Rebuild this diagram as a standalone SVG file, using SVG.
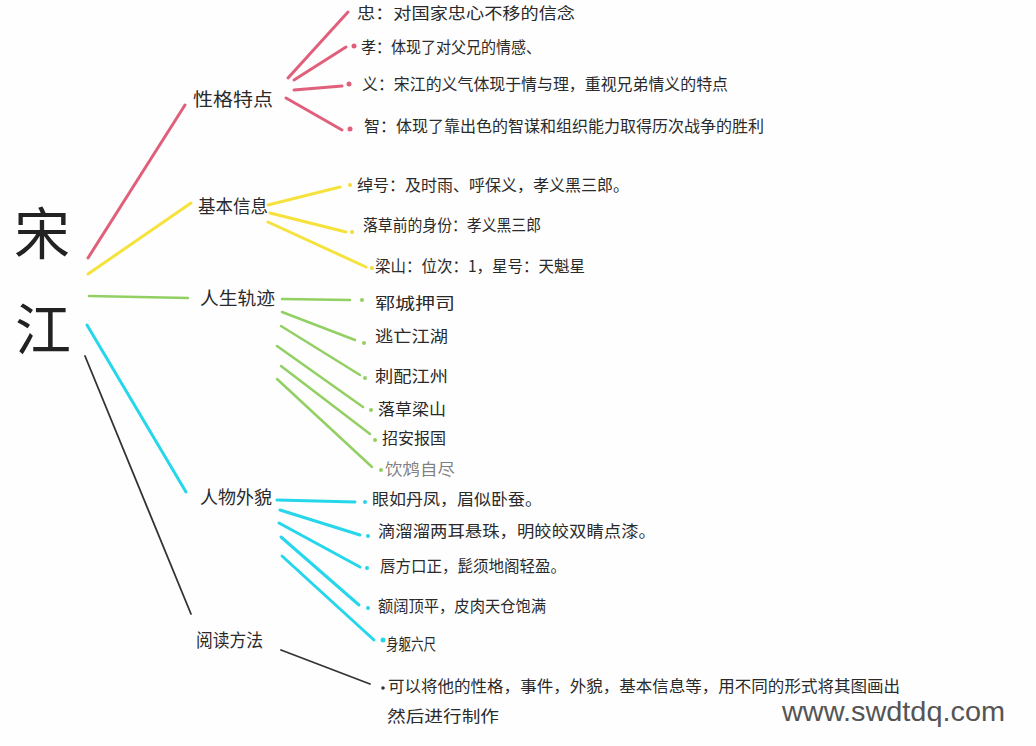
<svg xmlns="http://www.w3.org/2000/svg" width="1036" height="746" viewBox="0 0 1036 746">
<style>
.t{font-family:"Noto Sans CJK SC","Noto Sans",sans-serif;fill:#2a2a2a;font-size:16px}
.lbl{font-size:18px}
.big{font-size:56px;fill:#222}
.r{stroke:#e0607c;stroke-width:3;stroke-linecap:round;fill:none}
.y{stroke:#f6e23c;stroke-width:3;stroke-linecap:round;fill:none}
.g{stroke:#92d063;stroke-width:2.5;stroke-linecap:round;fill:none}
.c{stroke:#26d6ea;stroke-width:3;stroke-linecap:round;fill:none}
.k{stroke:#333;stroke-width:1.8;stroke-linecap:round;fill:none}
.dr{fill:#e0607c}.dy{fill:#f2dc3a}.dg{fill:#92d063}.dc{fill:#26d6ea}.dk{fill:#333}
.wm{font-family:"Liberation Sans",Arial,sans-serif;font-size:28px;fill:#555}
</style>
<rect width="1036" height="746" fill="#fefefe"/>
<g id="connectors">
<line class="r" x1="88" y1="258" x2="185" y2="105"/>
<line class="y" x1="88" y1="274" x2="191" y2="203"/>
<line class="g" x1="89" y1="296" x2="188" y2="298"/>
<line class="c" x1="87" y1="325" x2="186" y2="492"/>
<line class="k" x1="85" y1="356" x2="191" y2="614"/>
<line class="r" x1="288" y1="78" x2="348" y2="12"/>
<line class="r" x1="294" y1="80" x2="346" y2="47"/>
<line class="r" x1="294" y1="90" x2="342" y2="86"/>
<line class="r" x1="286" y1="98" x2="342" y2="130"/>
<line class="y" x1="268" y1="205" x2="340" y2="187"/>
<line class="y" x1="270" y1="213" x2="346" y2="232"/>
<line class="y" x1="268" y1="222" x2="366" y2="267"/>
<line class="g" x1="282" y1="299" x2="350" y2="300"/>
<line class="g" x1="282" y1="312" x2="355" y2="340"/>
<line class="g" x1="281" y1="326" x2="360" y2="375"/>
<line class="g" x1="277" y1="346" x2="363" y2="407"/>
<line class="g" x1="281" y1="366" x2="370" y2="434"/>
<line class="g" x1="277" y1="379" x2="372" y2="467"/>
<line class="c" x1="277" y1="500" x2="355" y2="502"/>
<line class="c" x1="280" y1="510" x2="360" y2="535"/>
<line class="c" x1="279" y1="523" x2="360" y2="567"/>
<line class="c" x1="281" y1="537" x2="359" y2="605"/>
<line class="c" x1="282" y1="556" x2="374" y2="640"/>
<line class="k" x1="281" y1="650" x2="370" y2="684"/>
<circle class="dr" cx="354" cy="46" r="2.5"/>
<circle class="dr" cx="349" cy="84" r="2.5"/>
<circle class="dr" cx="350" cy="129" r="2.5"/>
<circle class="dy" cx="350" cy="185" r="2"/>
<circle class="dy" cx="352" cy="232" r="2"/>
<circle class="dy" cx="372" cy="268" r="2"/>
<circle class="dg" cx="362" cy="300" r="2"/>
<circle class="dg" cx="364" cy="343" r="2"/>
<circle class="dg" cx="365" cy="378" r="2"/>
<circle class="dg" cx="371" cy="410" r="2"/>
<circle class="dg" cx="375" cy="440" r="2"/>
<circle class="dg" cx="381" cy="470" r="2"/>
<circle class="dc" cx="365" cy="502" r="2"/>
<circle class="dc" cx="368" cy="536" r="2"/>
<circle class="dc" cx="367" cy="568" r="2"/>
<circle class="dc" cx="368" cy="608" r="2"/>
<circle class="dc" cx="383" cy="640" r="2.5"/>
<circle class="dk" cx="383" cy="688" r="1.8"/>
</g>
<g id="root"><text class="t big" x="14" y="254">宋</text><text class="t big" x="15" y="350">江</text></g>
<g id="n-xingge"><text class="t lbl" x="193" y="106" textLength="80" lengthAdjust="spacingAndGlyphs">性格特点</text></g>
<g id="n-zhong"><text class="t" x="357" y="19" textLength="218" lengthAdjust="spacingAndGlyphs">忠：对国家忠心不移的信念</text></g>
<g id="n-xiao"><text class="t" x="361" y="53" textLength="180" lengthAdjust="spacingAndGlyphs">孝：体现了对父兄的情感、</text></g>
<g id="n-yi"><text class="t" x="362" y="90" textLength="366" lengthAdjust="spacingAndGlyphs">义：宋江的义气体现于情与理，重视兄弟情义的特点</text></g>
<g id="n-zhi"><text class="t" x="364" y="132" textLength="400" lengthAdjust="spacingAndGlyphs">智：体现了靠出色的智谋和组织能力取得历次战争的胜利</text></g>
<g id="n-jiben"><text class="t lbl" x="198" y="213" textLength="70" lengthAdjust="spacingAndGlyphs">基本信息</text></g>
<g id="n-chuohao"><text class="t" x="357" y="191" textLength="272" lengthAdjust="spacingAndGlyphs">绰号：及时雨、呼保义，孝义黑三郎。</text></g>
<g id="n-shenfen"><text class="t" x="363" y="231" textLength="178" lengthAdjust="spacingAndGlyphs">落草前的身份：孝义黑三郎</text></g>
<g id="n-liangshan"><text class="t" x="375" y="272" textLength="210" lengthAdjust="spacingAndGlyphs">梁山：位次：1，星号：天魁星</text></g>
<g id="n-rensheng"><text class="t lbl" x="200" y="305" textLength="75" lengthAdjust="spacingAndGlyphs">人生轨迹</text></g>
<g id="n-g1"><text class="t" x="375" y="309" textLength="80" lengthAdjust="spacingAndGlyphs">郓城押司</text></g>
<g id="n-g2"><text class="t" x="375" y="342" textLength="73" lengthAdjust="spacingAndGlyphs">逃亡江湖</text></g>
<g id="n-g3"><text class="t" x="375" y="382" textLength="73" lengthAdjust="spacingAndGlyphs">刺配江州</text></g>
<g id="n-g4"><text class="t" x="378" y="415" textLength="68" lengthAdjust="spacingAndGlyphs">落草梁山</text></g>
<g id="n-g5"><text class="t" x="382" y="444" textLength="64" lengthAdjust="spacingAndGlyphs">招安报国</text></g>
<g id="n-g6"><text class="t" x="385" y="475" textLength="70" lengthAdjust="spacingAndGlyphs" fill-opacity="0.6">饮鸩自尽</text></g>
<g id="n-waimao"><text class="t lbl" x="200" y="504" textLength="72" lengthAdjust="spacingAndGlyphs">人物外貌</text></g>
<g id="n-c1"><text class="t" x="372" y="505" textLength="170" lengthAdjust="spacingAndGlyphs">眼如丹凤，眉似卧蚕。</text></g>
<g id="n-c2"><text class="t" x="378" y="537" textLength="278" lengthAdjust="spacingAndGlyphs">滴溜溜两耳悬珠，明皎皎双睛点漆。</text></g>
<g id="n-c3"><text class="t" x="380" y="572" textLength="186" lengthAdjust="spacingAndGlyphs">唇方口正，髭须地阁轻盈。</text></g>
<g id="n-c4"><text class="t" x="378" y="612" textLength="168" lengthAdjust="spacingAndGlyphs">额阔顶平，皮肉天仓饱满</text></g>
<g id="n-c5"><text class="t" x="386" y="650" textLength="50" lengthAdjust="spacingAndGlyphs">身躯六尺</text></g>
<g id="n-yuedu"><text class="t lbl" x="196" y="647" textLength="67" lengthAdjust="spacingAndGlyphs">阅读方法</text></g>
<g id="n-fangfa">
<text class="t" x="388" y="692" textLength="512" lengthAdjust="spacingAndGlyphs">可以将他的性格，事件，外貌，基本信息等，用不同的形式将其图画出</text>
<text class="t" x="387" y="722" textLength="112" lengthAdjust="spacingAndGlyphs">然后进行制作</text>
</g>
<text class="wm" x="782" y="721" textLength="223" lengthAdjust="spacingAndGlyphs">www.swdtdq.com</text>
</svg>
